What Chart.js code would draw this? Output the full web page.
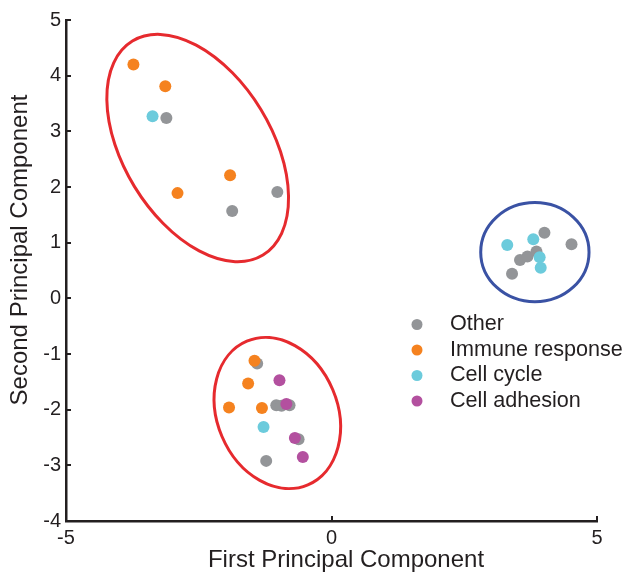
<!DOCTYPE html>
<html>
<head>
<meta charset="utf-8">
<script src="https://cdn.jsdelivr.net/npm/chart.js@4.4.0/dist/chart.umd.min.js"></script>
<style>
  html, body { margin: 0; padding: 0; background: #fff; }
  #wrap { width: 626px; height: 574px; }
</style>
</head>
<body>
<div id="wrap"><canvas id="pcaChart"></canvas></div>
<script>
// gene groups, in legend order
const categories = ["Other", "Immune response", "Cell cycle", "Cell adhesion"];
const groupColors = ["#939598", "#f5821f", "#6ccbdc", "#b3509f"];

// points as [first PC, second PC]
const otherPts = [[-3.11, 3.24], [-1.02, 1.91], [-1.87, 1.57],
  [-1.40, -1.17], [-1.04, -1.92], [-0.94, -1.93], [-0.79, -1.92], [-0.62, -2.53], [-1.23, -2.92],
  [4.01, 1.18], [4.52, 0.97], [3.55, 0.69], [3.69, 0.75], [3.86, 0.84], [3.40, 0.44]];
const immunePts = [[-3.73, 4.20], [-3.13, 3.81], [-1.91, 2.21], [-2.90, 1.89],
  [-1.45, -1.12], [-1.57, -1.53], [-1.93, -1.96], [-1.31, -1.97]];
const cyclePts = [[-3.37, 3.27], [-1.28, -2.31],
  [3.31, 0.96], [3.80, 1.06], [3.92, 0.74], [3.94, 0.55]];
const adhesionPts = [[-0.98, -1.47], [-0.85, -1.90], [-0.69, -2.51], [-0.54, -2.85]];

const xTicks = [-5, 0, 5];
const yTicks = [5, 4, 3, 2, 1, 0, -1, -2, -3, -4];

// cluster outlines (centre, radius along / across, tilt in degrees on screen)
const ellipseX = [-2.52, -1.02, 3.83];
const ellipseY = [2.70, -2.06, 0.83];
const ellipseA = [2.36, 1.47, 1.02];
const ellipseB = [1.33, 1.08, 0.89];
const ellipseTilt = [58.6, 67, 0];
const ellipseColor = ["#e62a2e", "#e62a2e", "#3a52a4"];

const FONT = "'Liberation Sans', Arial, Helvetica, sans-serif";
const INK = "#231f20";

const allPts = [otherPts, immunePts, cyclePts, adhesionPts];

// ellipses, tick marks, titles and legend
const extras = {
  id: 'extras',
  beforeDatasetsDraw(chart) {
    const ctx = chart.ctx, xs = chart.scales.x, ys = chart.scales.y;
    const kx = Math.abs(xs.getPixelForValue(1) - xs.getPixelForValue(0));
    const ky = Math.abs(ys.getPixelForValue(1) - ys.getPixelForValue(0));
    ctx.save();
    ctx.lineWidth = 3;
    for (let i = 0; i < ellipseX.length; i++) {
      ctx.strokeStyle = ellipseColor[i];
      ctx.beginPath();
      ctx.ellipse(xs.getPixelForValue(ellipseX[i]), ys.getPixelForValue(ellipseY[i]),
        ellipseA[i] * kx, ellipseB[i] * ky, ellipseTilt[i] * Math.PI / 180, 0, 2 * Math.PI);
      ctx.stroke();
    }
    ctx.restore();
  },
  afterDraw(chart) {
    const ctx = chart.ctx, xs = chart.scales.x, ys = chart.scales.y;
    const area = chart.chartArea;
    ctx.save();
    // inward tick marks
    ctx.strokeStyle = INK;
    ctx.lineWidth = 2;
    ctx.beginPath();
    yTicks.forEach(v => {
      const py = Math.round(ys.getPixelForValue(v));
      ctx.moveTo(area.left, py);
      ctx.lineTo(area.left + 5, py);
    });
    xTicks.forEach(v => {
      const px = Math.round(xs.getPixelForValue(v));
      ctx.moveTo(px, area.bottom);
      ctx.lineTo(px, area.bottom - 5);
    });
    ctx.stroke();

    // axis titles
    ctx.fillStyle = INK;
    ctx.font = "24px " + FONT;
    ctx.textAlign = 'center';
    ctx.textBaseline = 'middle';
    ctx.fillText("First Principal Component", 346, 560);
    ctx.save();
    ctx.translate(20, 250);
    ctx.rotate(-Math.PI / 2);
    ctx.fillText("Second Principal Component", 0, 0);
    ctx.restore();

    // legend
    ctx.font = "21.6px " + FONT;
    ctx.textAlign = 'left';
    categories.forEach((name, i) => {
      const ly = 324.5 + i * 25.5;
      ctx.fillStyle = groupColors[i];
      ctx.beginPath();
      ctx.arc(417, ly, 5.5, 0, 2 * Math.PI);
      ctx.fill();
      ctx.fillStyle = INK;
      ctx.fillText(name, 450, ly);
    });
    ctx.restore();
  }
};

new Chart(document.getElementById('pcaChart'), {
  type: 'scatter',
  data: {
    datasets: categories.map((name, i) => ({
      label: name,
      data: allPts[i].map(p => ({ x: p[0], y: p[1] })),
      backgroundColor: groupColors[i],
      borderWidth: 0,
      pointRadius: 6,
      pointHoverRadius: 6,
      order: 4 - i
    }))
  },
  options: {
    responsive: true,
    maintainAspectRatio: false,
    animation: false,
    events: [],
    layout: { padding: { top: 20, right: 29, left: 0, bottom: 0 } },
    plugins: { legend: { display: false }, tooltip: { enabled: false } },
    scales: {
      x: {
        type: 'linear', min: -5, max: 5,
        afterBuildTicks: s => { s.ticks = xTicks.map(v => ({ value: v })); },
        afterFit: s => { s.height = 53; },
        grid: { drawOnChartArea: false, drawTicks: false },
        border: { display: true, color: INK, width: 2.5 },
        ticks: { color: INK, font: { family: FONT, size: 20 }, padding: 5, maxRotation: 0 }
      },
      y: {
        type: 'linear', min: -4, max: 5,
        afterBuildTicks: s => { s.ticks = yTicks.map(v => ({ value: v })); },
        afterFit: s => { s.width = 66; },
        grid: { drawOnChartArea: false, drawTicks: false },
        border: { display: true, color: INK, width: 2.5 },
        ticks: { color: INK, font: { family: FONT, size: 20 }, padding: 5 }
      }
    }
  },
  plugins: [extras]
});
</script>
</body>
</html>
